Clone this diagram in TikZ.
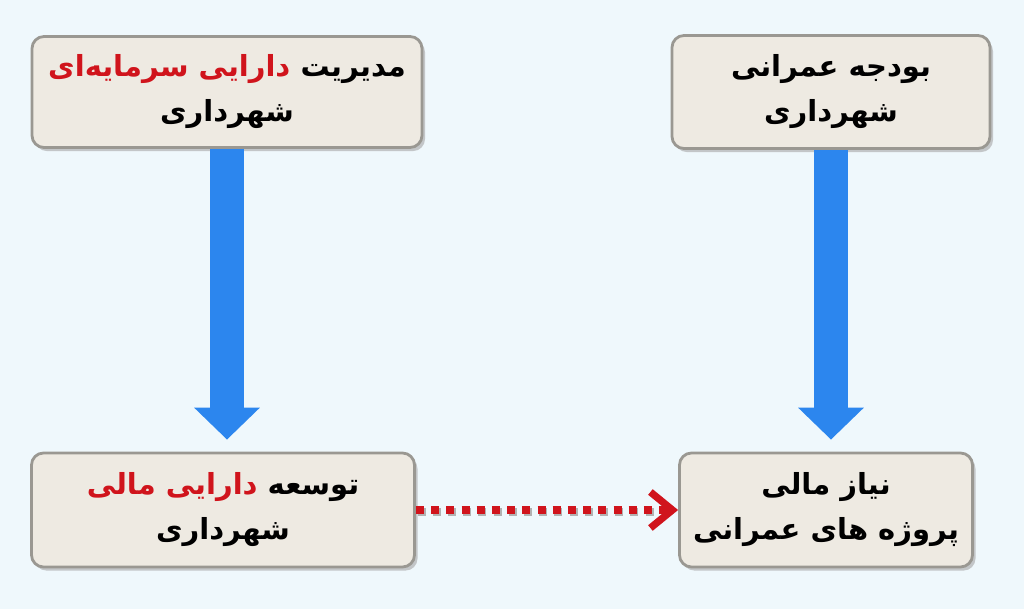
\documentclass[tikz,border=0pt]{standalone}
\usepackage{fontspec}
\newfontfamily\arabicfont[Script=Arabic]{DejaVu Sans}
\TeXXeTstate=1
\usetikzlibrary{arrows.meta,shadows}
\definecolor{bgblue}{HTML}{EFF8FC}
\definecolor{boxfill}{HTML}{EEEAE2}
\definecolor{boxedge}{HTML}{9A9892}
\definecolor{arrowblue}{HTML}{2C86EE}
\definecolor{textred}{HTML}{D0141C}
\tikzset{
  box/.style={draw=boxedge,line width=1.4pt,fill=boxfill,rounded corners=6pt,
    align=center,font=\arabicfont\bfseries\fontsize{14.5}{22.5}\selectfont,
    drop shadow={shadow xshift=1.5pt,shadow yshift=-1.8pt,fill=gray!70,opacity=0.6}},
  bluearrow/.style={line width=17pt,arrowblue,
    -{Triangle[width=32pt,length=16pt]}},
  redarrow/.style={line width=4pt,textred,dash pattern=on 4pt off 3.6pt,
    -{Straight Barb[length=11pt,width=18pt,line width=3.6pt]}}
}
\newcommand{\rl}[1]{\beginR #1\endR}
\begin{document}
\begin{tikzpicture}[x=0.5pt,y=-0.5pt]
  \fill[bgblue](0,0)rectangle(1024,609);
  \useasboundingbox(0,0)rectangle(1024,609);
  % boxes
  \node[box,minimum width=195pt,minimum height=55.5pt](capital)at(227,92)
    {\textcolor{textred}{\rl{دارایی سرمایه^^^^200cای}} \rl{مدیریت}\\\rl{شهرداری}};
  \node[box,minimum width=159pt,minimum height=56.5pt](budget)at(831,92)
    {\rl{بودجه عمرانی}\\\rl{شهرداری}};
  \node[box,minimum width=191.5pt,minimum height=57pt](growth)at(223,510)
    {\textcolor{textred}{\rl{دارایی مالی}} \rl{توسعه}\\\rl{شهرداری}};
  \node[box,minimum width=146.5pt,minimum height=57pt](need)at(826,510)
    {\rl{نیاز مالی}\\\rl{پروژه های عمرانی}};
  % connectors
  \draw[bluearrow,shorten >=6pt](capital.south)--(capital.south|-growth.north);
  \draw[bluearrow,shorten >=6pt](budget.south)--(budget.south|-need.north);
  \draw[gray!60,line width=4pt,dash pattern=on 4pt off 3.6pt,shorten >=12pt,
    transform canvas={xshift=0.8pt,yshift=-1pt}](growth.east)--(need.west);
  \draw[redarrow](growth.east)--(need.west);
\end{tikzpicture}
\end{document}
